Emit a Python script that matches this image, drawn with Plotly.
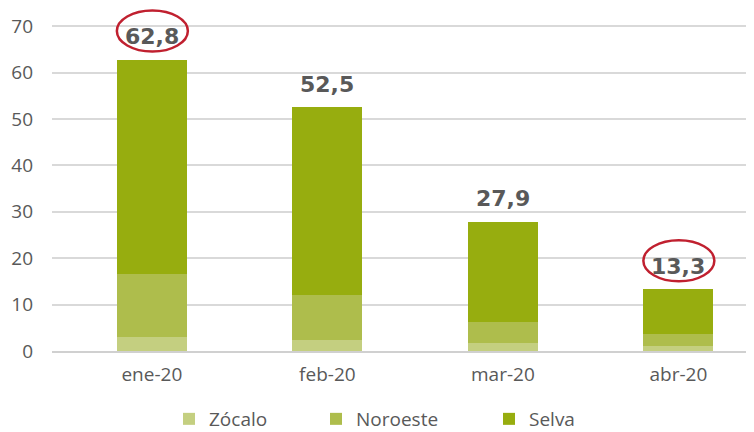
import plotly.graph_objects as go

MONTHS = ['ene-20', 'feb-20', 'mar-20', 'abr-20']
ZOCALO = [3.0, 2.4, 1.7, 1.1]
NOROESTE = [13.6, 9.7, 4.6, 2.6]
SELVA = [46.2, 40.4, 21.6, 9.6]
TOTALS = [62.8, 52.5, 27.9, 13.3]
TOTAL_LABELS = ['62,8', '52,5', '27,9', '13,3']
CIRCLED = ['ene-20', 'abr-20']

TEXT_COLOR = "#595959"
GRID_COLOR = "#d9d9d9"
FONT = "Open Sans"

# page has an 8px body margin; the figure runs a bit past the right edge
W, H = 754, 424

series = [
    ('Zócalo', ZOCALO, '#c4cf80', 'legend', 161),
    ('Noroeste', NOROESTE, '#aebd4c', 'legend2', 308),
    ('Selva', SELVA, '#97ad0f', 'legend3', 481),
]

fig = go.Figure()
for name, values, color, legend_id, legend_px in series:
    fig.add_trace(go.Bar(
        x=MONTHS,
        y=values,
        name=name,
        marker_color=color,
        marker_line_width=0,
        width=0.4,
        legend=legend_id,
    ))

# value labels over the stacks
for month, total, label in zip(MONTHS, TOTALS, TOTAL_LABELS):
    fig.add_annotation(
        x=month, y=total, text=label, showarrow=False,
        yanchor='middle', yshift=23,
        font=dict(family="DejaVu Sans", size=22, color=TEXT_COLOR, weight='bold'),
    )

# red ellipses around first and last totals
for month in CIRCLED:
    i = MONTHS.index(month)
    fig.add_shape(
        type='circle', xref='x', yref='y',
        xsizemode='pixel', ysizemode='pixel',
        xanchor=month, yanchor=TOTALS[i],
        x0=-35, x1=36, y0=8, y1=49,
        line=dict(color='#c0202f', width=2.5),
    )

legend_common = dict(
    orientation='h', xref='container', yref='container',
    yanchor='middle', y=(H - 411) / H, xanchor='left',
    font=dict(family=FONT, size=19, color=TEXT_COLOR),
    bgcolor='rgba(0,0,0,0)', itemwidth=30,
)
fig.update_layout(
    legend=dict(x=series[0][4] / W, **legend_common),
    legend2=dict(x=series[1][4] / W, **legend_common),
    legend3=dict(x=series[2][4] / W, **legend_common),
)

fig.update_layout(
    barmode='stack',
    width=W, height=H,
    margin=dict(l=44, r=8, t=0, b=81),
    plot_bgcolor='white', paper_bgcolor='white',
    font=dict(family=FONT, color=TEXT_COLOR, size=19),
    showlegend=True,
    xaxis=dict(
        range=[-0.569, 3.431],
        showgrid=False,
        showline=True, linecolor='#d0d0d0', linewidth=2,
        ticks='', ticklabelstandoff=5,
        tickfont=dict(family=FONT, size=19, color=TEXT_COLOR),
    ),
    yaxis=dict(
        range=[0, 73.9], tickvals=[0, 10, 20, 30, 40, 50, 60, 70],
        showgrid=True, gridcolor=GRID_COLOR, gridwidth=1.5,
        zeroline=False, showline=False,
        ticks='', ticklabelstandoff=18,
        tickfont=dict(family=FONT, size=19, color=TEXT_COLOR),
    ),
)

fig.write_html("out.html")
